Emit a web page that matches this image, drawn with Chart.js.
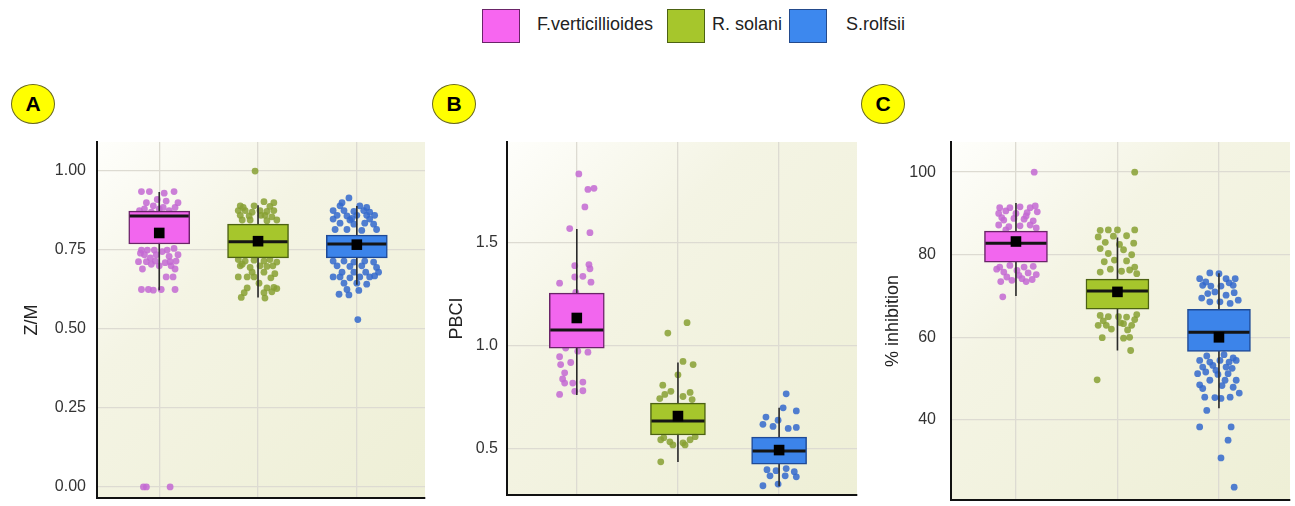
<!DOCTYPE html>
<html>
<head>
<meta charset="utf-8">
<script src="https://cdn.jsdelivr.net/npm/chart.js@4.4.1/dist/chart.umd.min.js"></script>
<style>
  body { margin: 0; background: #fff; font-family: "Liberation Sans", Arial, Helvetica, sans-serif; }
  #page { position: relative; width: 1295px; height: 506px; overflow: hidden; }
  .panel { position: absolute; top: 135px; height: 371px; }
  .key { position: absolute; top: 9px; width: 38px; height: 34px; box-sizing: border-box; border: 1.5px solid #333; }
  .keytxt { position: absolute; top: 14px; font-size: 18px; color: #222; }
  .tag { position: absolute; width: 44px; height: 40px; border-radius: 50%; background: #ffff00; border: 1.5px solid #6a6a20;
         box-sizing: border-box; text-align: center; line-height: 38px; font-weight: bold; font-size: 21px; color: #000;
         font-family: "Liberation Sans Narrow", "Liberation Sans", Arial, sans-serif; }
</style>
</head>
<body>
<div id="page">
  <div class="key" style="left:482px;background:#f766f0;border-color:#6a2468"></div>
  <div class="keytxt" style="left:537px">F.verticillioides</div>
  <div class="key" style="left:667px;background:#a6c62c;border-color:#4c6212"></div>
  <div class="keytxt" style="left:712px">R. solani</div>
  <div class="key" style="left:789px;background:#3d88ee;border-color:#234a8c"></div>
  <div class="keytxt" style="left:846px">S.rolfsii</div>

  <div class="tag" style="left:11px;top:84px">A</div>
  <div class="tag" style="left:432px;top:84px">B</div>
  <div class="tag" style="left:861px;top:84px">C</div>

  <div class="panel" style="left:0;width:430px"><canvas id="chartA"></canvas></div>
  <div class="panel" style="left:430px;width:430px"><canvas id="chartB"></canvas></div>
  <div class="panel" style="left:860px;width:435px"><canvas id="chartC"></canvas></div>
</div>
<script>
// especies (orden de las cajas en cada panel)
const species = ["F.verticillioides", "R. solani", "S.rolfsii"];

// --- Panel A: Z/M ---
const zmTicks = [0, 0.25, 0.5, 0.75, 1.0];
const zmQ1 = [0.769, 0.725, 0.725];
const zmQ3 = [0.873, 0.832, 0.797];
const zmMedian = [0.858, 0.776, 0.769];
const zmMean = [0.804, 0.778, 0.767];
const zmLow = [0.623, 0.600, 0.640];
const zmHigh = [0.934, 0.892, 0.889];
// puntos: [desplazamiento horizontal, valor]
const zmFv = [[-0.18,0.935],[-0.10,0.935],[0.05,0.93],[0.15,0.935],[-0.13,0.90],[-0.06,0.89],[0.07,0.905],[0.16,0.885],
  [-0.2,0.875],[0.0,0.88],[0.1,0.875],[-0.08,0.87],[0.12,0.865],[-0.18,0.75],[-0.12,0.75],[-0.05,0.75],[0.08,0.75],
  [0.15,0.755],[-0.15,0.735],[-0.03,0.735],[0.1,0.73],[-0.21,0.713],[-0.13,0.713],[-0.04,0.715],[0.06,0.71],
  [0.11,0.713],[0.17,0.715],[-0.08,0.705],[0.12,0.7],[0.07,0.665],[0.14,0.665],[-0.18,0.625],[-0.11,0.625],
  [-0.06,0.623],[0.02,0.625],[0.16,0.625],[-0.16,0.0],[-0.13,0.0],[0.11,0.0],
  [-0.15,0.88],[0.04,0.885],[0.19,0.9],[-0.02,0.91],[-0.19,0.74],[0.03,0.745],[0.19,0.735],[-0.09,0.725],
  [0.0,0.7],[-0.17,0.69],[0.16,0.69]];
const zmRs = [[-0.03,1.0],[0.06,0.903],[0.16,0.9],[-0.18,0.89],[-0.04,0.89],[-0.2,0.875],[-0.13,0.875],[-0.06,0.87],
  [0.02,0.875],[0.09,0.872],[0.16,0.875],[-0.18,0.86],[-0.09,0.858],[0.07,0.86],[0.14,0.855],[-0.16,0.845],
  [-0.08,0.845],[0.09,0.843],[0.19,0.845],[-0.2,0.72],[-0.13,0.715],[-0.04,0.718],[0.06,0.715],[0.12,0.72],
  [0.19,0.712],[-0.18,0.70],[-0.08,0.695],[0.09,0.698],[-0.2,0.665],[-0.11,0.665],[-0.04,0.665],[0.13,0.662],
  [0.01,0.645],[-0.11,0.63],[0.09,0.63],[0.16,0.632],[0.19,0.628],[-0.14,0.615],[0.06,0.615],[0.14,0.618],
  [-0.17,0.60],[0.07,0.598],
  [-0.15,0.885],[0.12,0.888],[0.03,0.86],[-0.16,0.705],[0.02,0.70],[0.15,0.70],[-0.06,0.68],[0.06,0.68],[0.17,0.675]];
const zmSr = [[-0.08,0.915],[-0.17,0.89],[0.03,0.89],[0.1,0.885],[-0.24,0.875],[-0.13,0.875],[-0.03,0.872],[0.07,0.875],
  [-0.2,0.86],[-0.1,0.858],[0.0,0.86],[0.18,0.86],[-0.24,0.848],[-0.07,0.845],[0.13,0.848],[-0.17,0.835],
  [-0.03,0.832],[0.08,0.835],[0.17,0.832],[-0.22,0.815],[-0.1,0.815],[0.05,0.812],[0.2,0.815],[-0.24,0.715],
  [-0.13,0.715],[-0.03,0.712],[0.08,0.715],[0.17,0.712],[-0.2,0.70],[-0.07,0.698],[0.05,0.70],[0.2,0.695],
  [-0.24,0.665],[-0.17,0.665],[-0.07,0.662],[0.03,0.665],[0.13,0.665],[0.18,0.668],[-0.13,0.645],[0.0,0.645],
  [0.1,0.642],[-0.1,0.625],[0.02,0.622],[-0.18,0.61],[-0.08,0.608],[0.01,0.53],
  [-0.15,0.9],[0.13,0.87],[-0.05,0.85],[0.1,0.86],[-0.15,0.68],[0.09,0.68],[0.22,0.68],[-0.03,0.68]];

// --- Panel B: PBCI ---
const pbTicks = [0.5, 1.0, 1.5];
const pbQ1 = [0.99, 0.568, 0.427];
const pbQ3 = [1.257, 0.723, 0.558];
const pbMedian = [1.078, 0.636, 0.49];
const pbMean = [1.136, 0.66, 0.495];
const pbLow = [0.762, 0.437, 0.32];
const pbHigh = [1.568, 0.92, 0.70];
const pbFv = [[0.02,1.835],[0.11,1.76],[0.17,1.765],[0.08,1.675],[-0.07,1.57],[0.13,1.55],[-0.02,1.39],[0.12,1.395],
  [0.13,1.375],[-0.02,1.335],[0.06,1.338],[-0.17,1.305],[0.14,1.31],[-0.01,1.26],[-0.17,0.948],[-0.11,0.99],
  [0.01,0.975],[0.11,0.97],[-0.06,0.92],[-0.16,0.91],[-0.12,0.87],[-0.14,0.84],[-0.12,0.82],[-0.04,0.82],
  [0.06,0.825],[-0.02,0.78],[0.06,0.783],[-0.17,0.765]];
const pbRs = [[0.09,1.113],[-0.10,1.063],[0.05,0.925],[0.15,0.91],[0.0,0.86],[-0.15,0.81],[-0.07,0.78],[0.12,0.775],
  [-0.13,0.765],[-0.18,0.745],[0.05,0.755],[0.14,0.74],[-0.17,0.545],[-0.08,0.535],[0.05,0.53],[0.12,0.545],
  [-0.05,0.52],[0.07,0.52],[-0.14,0.555],[0.17,0.56],[-0.17,0.438]];
const pbSr = [[0.07,0.768],[0.04,0.70],[0.17,0.685],[-0.01,0.64],[-0.13,0.655],[-0.16,0.62],[-0.06,0.61],[0.17,0.605],
  [0.09,0.60],[-0.12,0.40],[-0.03,0.395],[0.07,0.405],[0.15,0.39],[-0.09,0.37],[0.06,0.37],[0.17,0.365],
  [-0.16,0.322],[-0.01,0.33]];

// --- Panel C: % inhibition ---
const ihTicks = [40, 60, 80, 100];
const ihQ1 = [78.2, 66.8, 56.6];
const ihQ3 = [85.7, 74.1, 66.8];
const ihMedian = [82.8, 71.2, 61.2];
const ihMean = [83.2, 71.0, 60.0];
const ihLow = [70.0, 56.8, 42.8];
const ihHigh = [92.5, 84.2, 75.5];
const ihFv = [[0.18,100],[-0.16,91.4],[-0.06,91.4],[0.04,91.6],[0.14,91.4],[0.19,91.8],[-0.17,90],[0.11,90.2],
  [0.21,90.4],[-0.12,88.4],[-0.02,88.8],[0.08,88.6],[0.17,88.2],[-0.17,87.2],[-0.07,86.8],[0.04,87],[0.14,87.2],
  [-0.16,77],[-0.06,77.4],[0.08,77],[0.17,77.2],[-0.12,75.8],[0.01,76.2],[0.12,75.6],[-0.09,74.6],[0.06,74.2],
  [0.16,74],[-0.13,69.8],
  [-0.1,90.6],[0.0,90],[-0.14,89],[0.1,89.4],[0.2,86.5],[-0.1,86],[-0.19,76.5],[0.03,75],[0.2,75.2],[-0.04,73.8],
  [0.1,73.5],[-0.15,73.5]];
const ihRs = [[0.17,100],[-0.17,85.9],[-0.09,86],[0,86],[0.17,86],[-0.19,84.3],[-0.04,84.5],[0.09,84.6],[0.16,82.8],
  [-0.17,81.5],[-0.09,80.3],[0.06,81.2],[0.14,80],[-0.13,78.3],[-0.03,78.7],[0.09,78.5],[0.17,77],[-0.17,75.8],
  [0.19,75.4],[-0.17,65.3],[-0.09,65],[0.01,65],[0.09,64.9],[0.17,64.3],[-0.19,62.9],[-0.11,62.9],[0.06,63.3],
  [0.14,62.9],[-0.15,59.9],[0.06,59.8],[0.12,60],[0.13,56.8],[-0.2,49.7],
  [-0.12,83],[0.02,82.5],[-0.07,76.5],[0.04,76],[0.12,76.3],[-0.14,64],[0.03,63.5],[0.19,65.5],[-0.06,62],[0.1,61.8]];
const ihSr = [[-0.09,75.6],[0,75.4],[0.07,74.2],[0.16,74.2],[-0.19,74.2],[-0.16,72.6],[-0.08,72.4],[0.02,72.4],
  [0.14,72.6],[-0.11,70.6],[0.07,70.2],[-0.09,68.6],[0.01,68.6],[0.11,68.2],[-0.19,54.4],[-0.09,54],[0.01,54.4],
  [0.1,54],[0.17,54.4],[-0.16,52.8],[-0.06,53.2],[0.07,52.8],[-0.21,51.2],[-0.13,51.6],[-0.01,51],[0.09,51.2],
  [-0.09,49.6],[0.06,49.6],[0.17,49.6],[-0.16,47.6],[0.14,47.9],[-0.14,45.5],[-0.04,45.4],[0.02,45.2],[0.11,45.5],
  [-0.12,42.3],[-0.19,38.3],[0.12,38.3],[0.09,35.1],[0.02,30.8],[0.15,23.7],
  [-0.13,73.4],[0.1,73.2],[-0.04,71],[0.15,70.8],[-0.17,69.5],[0.19,69],[-0.12,55.5],[0.05,55.8],[0.14,55],
  [-0.03,52],[0.13,52.5],[-0.19,48.5],[0.03,48.3],[0.2,46.5]];

// colores
const boxFill = ["#f266ee", "#a6c62c", "#3c84ea"];
const boxEdge = ["#6a2468", "#4c6212", "#1f4a96"];
const dotColor = ["rgba(195,105,210,0.85)", "rgba(135,160,50,0.85)", "rgba(50,105,205,0.85)"];
const FONT = "'Liberation Sans', Arial, Helvetica, sans-serif";

// fondo degradado del área del gráfico
const fondoPlugin = {
  id: "fondo",
  beforeDraw(chart) {
    const a = chart.chartArea;
    const ctx = chart.ctx;
    const g = ctx.createLinearGradient(a.left, a.top, a.right, a.bottom);
    g.addColorStop(0, "#fefefb");
    g.addColorStop(0.35, "#f4f4e4");
    g.addColorStop(1, "#eeefd6");
    ctx.save();
    ctx.fillStyle = g;
    ctx.fillRect(a.left, a.top, a.right - a.left, a.bottom - a.top);
    ctx.restore();
  }
};

function makePanel(id, p) {
  const datasets = [];
  // puntos individuales (detrás de todo)
  p.points.forEach((pts, i) => {
    datasets.push({
      type: "scatter",
      data: pts.map(d => ({ x: i + 1 + d[0], y: d[1] })),
      backgroundColor: dotColor[i],
      borderWidth: 0,
      pointRadius: 3.4,
      order: 5
    });
  });
  // bigotes
  const wh = [];
  for (let i = 0; i < 3; i++) {
    wh.push({ x: i + 1, y: p.low[i] }, { x: i + 1, y: p.high[i] }, { x: i + 1.5, y: null });
  }
  datasets.push({
    type: "line", data: wh, borderColor: "#2a2a2a", borderWidth: 1.6,
    pointRadius: 0, spanGaps: false, order: 4
  });
  // cajas
  datasets.push({
    type: "bar",
    data: p.q1.map((v, i) => ({ x: i + 1, y: [v, p.q3[i]] })),
    backgroundColor: boxFill, borderColor: boxEdge, borderWidth: 1.5,
    borderSkipped: false, barThickness: p.boxW, order: 3
  });
  // mediana
  datasets.push({
    type: "scatter",
    data: p.median.map((v, i) => ({ x: i + 1, y: v })),
    pointStyle: "line", pointRadius: p.boxW / 2 - 1, borderColor: "#151515", borderWidth: 3, order: 2
  });
  // media
  datasets.push({
    type: "scatter",
    data: p.mean.map((v, i) => ({ x: i + 1, y: v })),
    pointStyle: "rect", pointRadius: 7.5, backgroundColor: "#000", borderColor: "#000", borderWidth: 0, order: 1
  });

  new Chart(document.getElementById(id), {
    type: "scatter",
    data: { datasets },
    plugins: [fondoPlugin],
    options: {
      responsive: true,
      maintainAspectRatio: false,
      animation: false,
      events: [],
      layout: { autoPadding: false, padding: { top: 7, right: p.padRight, bottom: p.padBottom, left: 0 } },
      plugins: { legend: { display: false }, tooltip: { enabled: false } },
      scales: {
        x: {
          type: "linear", min: p.xMin, max: p.xMax, offset: false,
          afterBuildTicks: s => { s.ticks = [1, 2, 3].map(v => ({ value: v })); },
          afterFit: s => { s.height = 0; s.paddingLeft = 0; s.paddingRight = 0; },
          ticks: { display: false },
          grid: { color: "#dddbd2", lineWidth: 1.3, drawTicks: false, offset: false },
          border: { display: true, color: "#111", width: 2 }
        },
        y: {
          type: "linear", min: p.yMin, max: p.yMax,
          afterBuildTicks: s => { s.ticks = p.ticks.map(v => ({ value: v })); },
          afterFit: s => { s.width = p.axisW; s.paddingTop = 0; s.paddingBottom = 0; },
          ticks: {
            color: "#333", padding: p.tickPad, font: { family: FONT, size: 16 },
            callback: v => v.toFixed(p.dec)
          },
          grid: { color: "#dddbd2", lineWidth: 1.3, drawTicks: false },
          border: { display: true, color: "#111", width: 2 },
          title: {
            display: true, text: p.title, color: "#222",
            font: { family: FONT, size: 18 }, padding: { top: p.titlePad, bottom: 0 }
          }
        }
      }
    }
  });
}

makePanel("chartA", {
  title: "Z/M", ticks: zmTicks, dec: 2, q1: zmQ1, q3: zmQ3, median: zmMedian, mean: zmMean,
  low: zmLow, high: zmHigh, points: [zmFv, zmRs, zmSr],
  yMin: -0.035, yMax: 1.092, xMin: 0.37, xMax: 3.69, boxW: 61,
  axisW: 97, tickPad: 11, titlePad: 21, padRight: 5, padBottom: 8
});
makePanel("chartB", {
  title: "PBCI", ticks: pbTicks, dec: 1, q1: pbQ1, q3: pbQ3, median: pbMedian, mean: pbMean,
  low: pbLow, high: pbHigh, points: [pbFv, pbRs, pbSr],
  yMin: 0.277, yMax: 1.99, xMin: 0.31, xMax: 3.77, boxW: 55,
  axisW: 77, tickPad: 9, titlePad: 16, padRight: 3, padBottom: 11
});
makePanel("chartC", {
  title: "% inhibition", ticks: ihTicks, dec: 0, q1: ihQ1, q3: ihQ3, median: ihMedian, mean: ihMean,
  low: ihLow, high: ihHigh, points: [ihFv, ihRs, ihSr],
  yMin: 20.6, yMax: 107.3, xMin: 0.36, xMax: 3.70, boxW: 63,
  axisW: 91, tickPad: 15, titlePad: 22, padRight: 5, padBottom: 6
});
</script>
</body>
</html>
